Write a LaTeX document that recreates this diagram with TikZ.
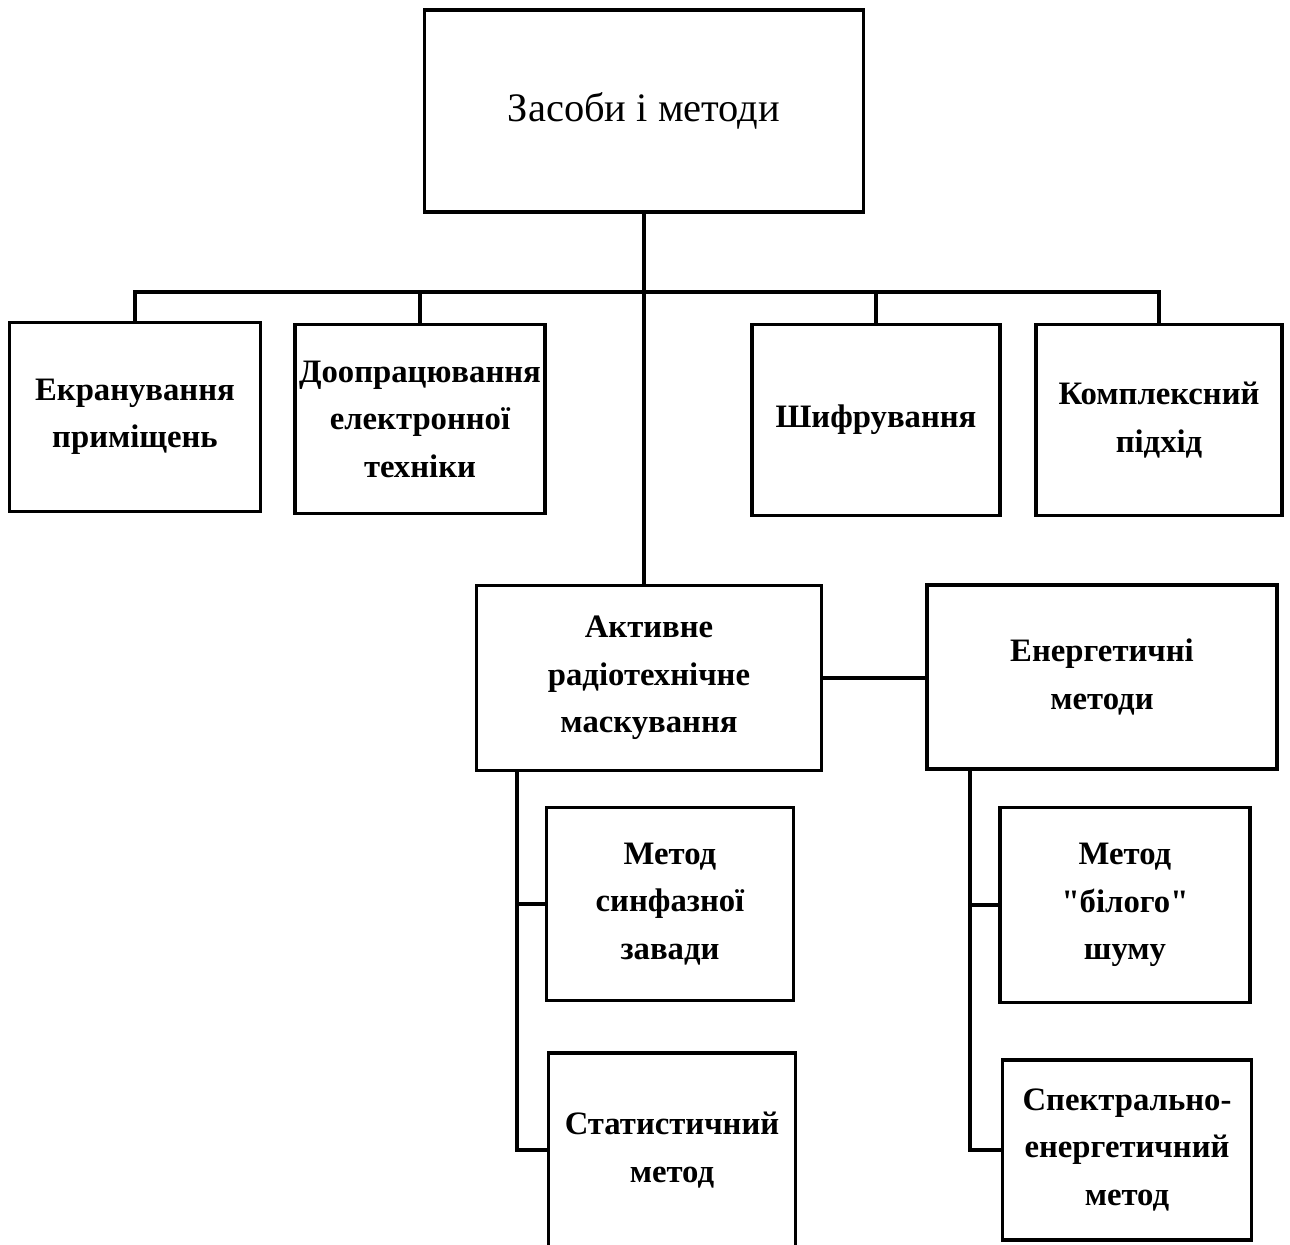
\documentclass[tikz,border=0pt]{standalone}
\usepackage{fontspec}
\setmainfont{Liberation Serif}[Ligatures=TeXOff]
\begin{document}
\begin{tikzpicture}[
        x=0.01cm, y=-0.01cm,
        box/.style={draw,line width=1pt,align=center,inner sep=0pt,
            font=\bfseries\fontsize{9.3}{13.5}\selectfont},
        top/.style={box,font=\fontsize{11.5}{15}\selectfont},
        link/.style={line width=1pt},
        ]
    \useasboundingbox (0,0) rectangle (1290,1245);
    % root
    \node (root) [top,minimum width=4.39cm,minimum height=2.02cm] at (644,111) {Засоби і методи};
    % first row
    \node (scr) [box,minimum width=2.51cm,minimum height=1.89cm] at (135,417) {Екранування\\приміщень};
    \node (doop) [box,minimum width=2.50cm,minimum height=1.89cm] at (420,419) {Доопрацювання\\електронної\\техніки};
    \node (shyfr) [box,minimum width=2.48cm,minimum height=1.91cm] at (876,420) {Шифрування};
    \node (kompl) [box,minimum width=2.46cm,minimum height=1.91cm] at (1159,420) {Комплексний\\підхід};
    % second row
    \node (act) [box,minimum width=3.45cm,minimum height=1.85cm] at (649,678) {Активне\\радіотехнічне\\маскування};
    \node (energ) [box,minimum width=3.50cm,minimum height=1.84cm] at (1102,677) {Енергетичні\\методи};
    % leaves
    \node (synf) [box,minimum width=2.47cm,minimum height=1.93cm] at (670,904) {Метод\\синфазної\\завади};
    \node (stat) [box,minimum width=2.47cm,minimum height=1.94cm] at (672,1150) {Статистичний\\метод};
    \node (shum) [box,minimum width=2.50cm,minimum height=1.95cm] at (1125,905) {Метод\\"білого"\\шуму};
    \node (spektr) [box,minimum width=2.49cm,minimum height=1.80cm] at (1127,1150) {Спектрально-\\енергетичний\\метод};
    % connectors
    \coordinate (bus) at (644,292);
    \coordinate (lrail) at (517,771);
    \coordinate (rrail) at (970,769);
    \draw[link] (root.south) -- (root.south |- act.north);
    \draw[link] (scr.north) |- (bus) -| (kompl.north);
    \draw[link] (doop.north) -- (doop.north |- bus);
    \draw[link] (shyfr.north) -- (shyfr.north |- bus);
    \draw[link] (act.east) -- (energ.west |- act.east);
    \draw[link] (lrail) |- (stat.west);
    \draw[link] (lrail |- synf.west) -- (synf.west);
    \draw[link] (rrail) |- (spektr.west);
    \draw[link] (rrail |- shum.west) -- (shum.west);
\end{tikzpicture}
\end{document}
